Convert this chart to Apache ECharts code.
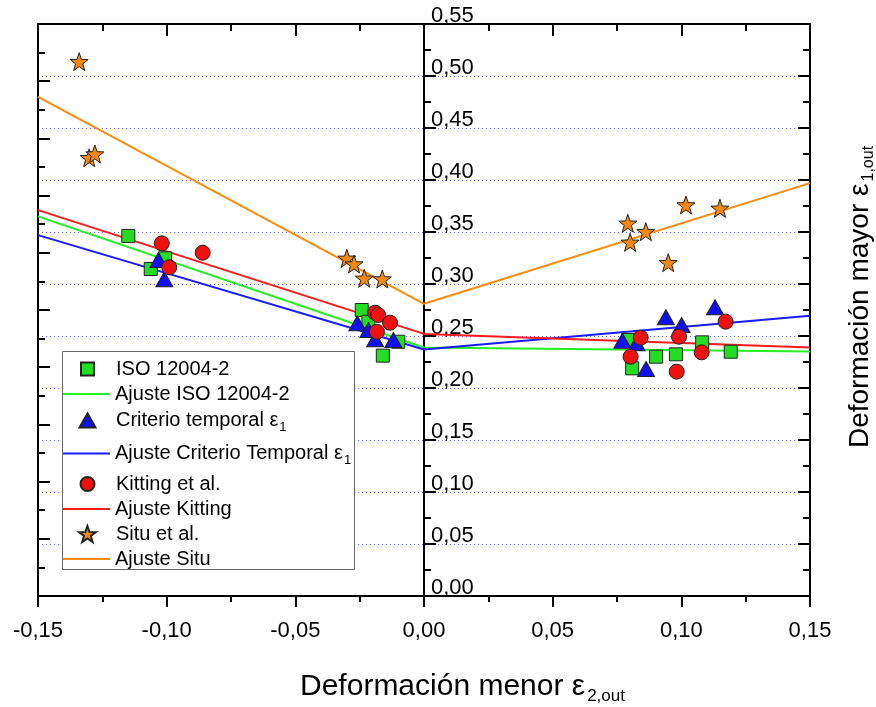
<!DOCTYPE html>
<html>
<head>
<meta charset="utf-8">
<script src="https://cdn.jsdelivr.net/npm/echarts@6/dist/echarts.min.js"></script>
<style>
  html, body { margin: 0; padding: 0; background: #fff; }
  #chart { width: 876px; height: 707px; }
</style>
</head>
<body>
<div id="chart"></div>
<script>
// ISO 12004-2 (cuadrados verdes)
const isoX = [-0.1149, -0.1062, -0.1006, -0.0242, -0.0216, -0.0100, -0.0160,
              0.0794, 0.0809, 0.0902, 0.0979, 0.1081, 0.1192];
const isoY = [0.3462, 0.3144, 0.3247, 0.2750, 0.2637, 0.2445, 0.2311,
              0.2462, 0.2189, 0.2301, 0.2324, 0.2439, 0.2349];

// Criterio temporal e1 (triangulos azules)
const temporalX = [-0.1032, -0.1009, -0.0259, -0.0216, -0.0190, -0.0119,
                   0.0771, 0.0826, 0.0863, 0.0940, 0.1001, 0.1131];
const temporalY = [0.3231, 0.3045, 0.2622, 0.2558, 0.2468, 0.2462,
                   0.2455, 0.2430, 0.2183, 0.2680, 0.2606, 0.2776];

// Kitting et al. (circulos rojos)
const kittingX = [-0.1019, -0.0990, -0.0860, -0.0190, -0.0178, -0.0132, -0.0183,
                  0.0803, 0.0842, 0.0991, 0.0982, 0.1079, 0.1172];
const kittingY = [0.3391, 0.3161, 0.3301, 0.2724, 0.2702, 0.2628, 0.2541,
                  0.2301, 0.2484, 0.2493, 0.2157, 0.2343, 0.2638];

// Situ et al. (estrellas naranjas)
const situX = [-0.1340, -0.1301, -0.1279, -0.0300, -0.0272, -0.0232, -0.0162,
               0.0792, 0.0801, 0.0862, 0.1018, 0.1150, 0.0949];
const situY = [0.5138, 0.4214, 0.4250, 0.3247, 0.3192, 0.3055, 0.3048,
               0.3584, 0.3401, 0.3503, 0.3760, 0.3728, 0.3205];

// ajustes lineales (izquierda / derecha de e2 = 0)
const fitX = [-0.15, 0, 0.15];
const isoFit = [0.365, 0.239, 0.235];
const temporalFit = [0.347, 0.237, 0.2695];
const kittingFit = [0.371, 0.252, 0.239];
const situFit = [0.480, 0.281, 0.397];

const legendNames = ['ISO 12004-2', 'Ajuste ISO 12004-2', 'Criterio temporal ε1',
  'Ajuste Criterio Temporal ε1', 'Kitting et al.', 'Ajuste Kitting', 'Situ et al.', 'Ajuste Situ'];
const legendRowY = [368, 393, 418, 451, 483, 508, 533, 558];

const FONT = '"Liberation Sans", Arial, sans-serif';
const STAR = 'path://M0,-10L2.35,-3.24L9.51,-3.09L3.8,1.24L5.88,8.09L0,4L-5.88,8.09L-3.8,1.24L-9.51,-3.09L-2.35,-3.24Z';
const SQUARE = 'path://M0,0L10,0L10,10L0,10Z';
const TRIANGLE = 'path://M8,0L16,14L0,14Z';
const LINE = 'path://M0,0L47,0L47,2L0,2Z';

// iconos de la leyenda: [icono, ancho, alto]
const legendIcons = [[SQUARE, 13, 13], [LINE, 47, 14], [TRIANGLE, 16, 14], [LINE, 47, 14],
                     ['circle', 14, 14], [LINE, 47, 14], [STAR, 17, 16], [LINE, 47, 14]];

const pts = (xs, ys) => xs.map((x, i) => [x, ys[i]]);
const fmt = v => (Math.abs(v) < 1e-9 ? 0 : v).toFixed(2).replace('.', ',');

const black = { color: '#000', width: 2 };

function fitSeries(name, ys, color) {
  return {
    name, type: 'line', data: pts(fitX, ys), symbol: 'none', z: 2,
    lineStyle: { color, width: 2 }, itemStyle: { color, borderWidth: 0 }
  };
}
function scatterSeries(name, xs, ys, symbol, size, color) {
  return {
    name, type: 'scatter', data: pts(xs, ys), symbol, symbolSize: size, z: 3,
    itemStyle: { color, borderColor: '#222', borderWidth: 1, opacity: 1 }
  };
}

const chart = echarts.init(document.getElementById('chart'));

const option = {
  animation: false,
  backgroundColor: '#fff',
  grid: { left: 38, right: 66, top: 24, bottom: 111, outerBoundsMode: 'none', containLabel: false },
  graphic: [{
    type: 'rect', left: 62, top: 351, z: 5,
    shape: { width: 292, height: 218 },
    style: { fill: '#fff', stroke: '#666', lineWidth: 1 }
  }],
  legend: legendNames.map((n, i) => {
    const hasSub = /ε1$/.test(n);
    const [icon, w, h] = legendIcons[i];
    return {
      data: [{ name: n, icon }], z: 10,
      left: 63 + (47 - w) / 2,
      top: legendRowY[i] - (hasSub ? 7.5 : 9),
      orient: 'vertical', itemWidth: 47, itemHeight: h, itemGap: 0, padding: 0,
      selectedMode: false, symbolKeepAspect: true,
      formatter: s => s.replace(/ε1$/, 'ε{sub|1}'),
      textStyle: {
        fontSize: 20, lineHeight: 20, color: '#000', fontFamily: FONT,
        rich: { sub: { fontSize: 13, fontFamily: FONT, color: '#000', padding: [14, 0, 0, 1] } }
      }
    };
  }),
  xAxis: [{
    type: 'value', min: -0.15, max: 0.15, interval: 0.05, position: 'bottom',
    axisLine: { show: true, onZero: false, lineStyle: black },
    axisTick: { inside: false, length: 11, lineStyle: black },
    minorTick: { show: true, splitNumber: 2, length: 6, lineStyle: black },
    axisLabel: { formatter: fmt, fontSize: 22, color: '#000', fontFamily: FONT, margin: 24 },
    splitLine: { show: false },
    name: 'Deformación menor ε{sub|2,out}', nameLocation: 'middle', nameGap: 73,
    nameTextStyle: {
      fontSize: 30, color: '#000', fontFamily: FONT, padding: [0, 0, 0, 77],
      rich: { sub: { fontSize: 17, fontFamily: FONT, color: '#000', padding: [19, 0, 0, 2] } }
    }
  }, {
    type: 'value', min: -0.15, max: 0.15, interval: 0.05, position: 'top',
    axisLine: { show: true, onZero: false, lineStyle: black },
    axisTick: { inside: true, length: 12, lineStyle: black },
    minorTick: { show: true, splitNumber: 2, length: 7, lineStyle: black },
    axisLabel: { show: false }, splitLine: { show: false }
  }],
  yAxis: [{
    // eje central en e2 = 0 (desplazado hasta el centro del grid)
    type: 'value', min: 0, max: 0.55, interval: 0.05, position: 'left', offset: -386,
    axisLine: { show: true, onZero: false, lineStyle: black },
    axisTick: { inside: true, length: 12, lineStyle: black },
    minorTick: { show: true, splitNumber: 2, length: 7, lineStyle: black },
    axisLabel: { inside: true, verticalAlign: 'bottom', lineHeight: 16, margin: 7, formatter: fmt,
                 fontSize: 22, color: '#000', fontFamily: FONT },
    splitLine: { show: true, lineStyle: { color: '#6a6aff', type: [1, 3], width: 1 } }
  }, {
    // marco izquierdo
    type: 'value', min: 0, max: 10, interval: 1, position: 'left',
    axisLine: { show: true, onZero: false, lineStyle: black },
    axisTick: { inside: true, length: 12, lineStyle: black },
    minorTick: { show: true, splitNumber: 2, length: 7, lineStyle: black },
    axisLabel: { show: false }, splitLine: { show: false }
  }, {
    type: 'value', min: 0, max: 0.55, interval: 0.05, position: 'right',
    axisLine: { show: true, onZero: false, lineStyle: black },
    axisTick: { inside: true, length: 12, lineStyle: black },
    minorTick: { show: true, splitNumber: 2, length: 7, lineStyle: black },
    axisLabel: { show: false }, splitLine: { show: false },
    name: 'Deformación mayor ε{sub|1,out}', nameLocation: 'middle', nameRotate: 90, nameGap: 33,
    nameTextStyle: {
      fontSize: 28, color: '#000', fontFamily: FONT, padding: [0, 0, 0, 26],
      rich: { sub: { fontSize: 16, fontFamily: FONT, color: '#000', padding: [18, 0, 0, 2] } }
    }
  }],
  series: [
    fitSeries('Ajuste ISO 12004-2', isoFit, '#22ee22'),
    fitSeries('Ajuste Criterio Temporal ε1', temporalFit, '#1a1aff'),
    fitSeries('Ajuste Kitting', kittingFit, '#ff1a1a'),
    fitSeries('Ajuste Situ', situFit, '#ff8a0a'),
    scatterSeries('ISO 12004-2', isoX, isoY, 'rect', 13, '#22dd22'),
    scatterSeries('Criterio temporal ε1', temporalX, temporalY, 'triangle', [17, 15], '#1010f0'),
    scatterSeries('Kitting et al.', kittingX, kittingY, 'circle', 15, '#f01010'),
    scatterSeries('Situ et al.', situX, situY, STAR, 18, '#f7880f')
  ]
};

chart.setOption(option);
</script>
</body>
</html>
